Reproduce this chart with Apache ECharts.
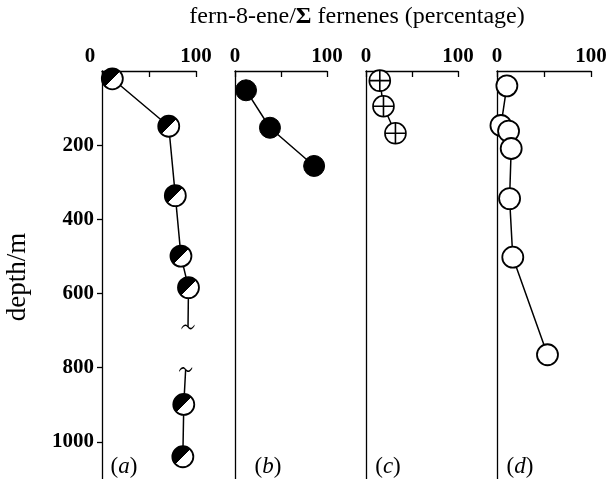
<!DOCTYPE html>
<html>
<head>
<meta charset="utf-8">
<script src="https://cdn.jsdelivr.net/npm/echarts@6/dist/echarts.min.js"></script>
<style>
  html, body { margin: 0; padding: 0; background: #fff; }
  #main { width: 611px; height: 479px; }
</style>
</head>
<body>
<div id="main"></div>
<script>
  // (a)
  const pctA = [11, 71, 78, 84, 92, 87, 86]
  const depthA = [21, 149, 336, 499, 584, 899, 1040]
  // ends of the broken stretch in (a)
  const breakPctA = [91.5, 89]
  const breakDepthA = [690, 805]
  // (b)
  const pctB = [12, 38, 86]
  const depthB = [52, 153, 256]
  // (c)
  const pctC = [15, 19, 32]
  const depthC = [26, 95, 168]
  // (d)
  const pctD = [10.5, 4.2, 12.3, 15.1, 13.4, 16.8, 53.7]
  const depthD = [40, 147, 162, 209, 344, 502, 765]

  const pctTicks = [0, 100]
  const depthTicks = [200, 400, 600, 800, 1000]
  const panelLabels = ['a', 'b', 'c', 'd']

  const serif = 'Liberation Serif'
  const zip = (xs, ys) => xs.map((x, i) => [x, ys[i]])

  // grid placement of the four panels
  const grids = [
    { left: 102, width: 94 },
    { left: 235, width: 92 },
    { left: 366, width: 92 },
    { left: 497, width: 94 }
  ].map(g => ({ left: g.left, width: g.width, top: 71, height: 412.5 }))

  const axisLineStyle = { color: '#000', width: 1.3 }

  const xAxes = grids.map((g, i) => ({
    gridIndex: i,
    type: 'value',
    position: 'top',
    min: 0,
    max: 100,
    interval: 50,
    axisLine: { show: true, onZero: false, lineStyle: axisLineStyle },
    axisTick: { show: true, inside: true, length: 6, lineStyle: axisLineStyle },
    axisLabel: {
      margin: 4,
      color: '#000',
      fontFamily: serif,
      fontWeight: 'bold',
      fontSize: 21,
      formatter: v => {
        if (pctTicks.indexOf(v) < 0) return ''
        if (i === 0 && v === 0) return '{s|0}'
        return String(v)
      },
      rich: {
        s: { padding: [0, 24, 0, 0], fontFamily: serif, fontWeight: 'bold', fontSize: 21, color: '#000' }
      }
    },
    splitLine: { show: false }
  }))

  const yAxes = grids.map((g, i) => ({
    gridIndex: i,
    type: 'value',
    inverse: true,
    min: 0,
    max: 1100,
    interval: 200,
    axisLine: { show: true, onZero: false, lineStyle: axisLineStyle },
    axisTick: { show: i === 0, length: 5, lineStyle: axisLineStyle },
    axisLabel: {
      show: i === 0,
      showMinLabel: false,
      showMaxLabel: false,
      margin: 8,
      color: '#000',
      fontFamily: serif,
      fontWeight: 'bold',
      fontSize: 21,
      formatter: v => depthTicks.indexOf(v) < 0 ? '' : String(v)
    },
    splitLine: { show: false }
  }))

  const lineOf = (i, data) => ({
    type: 'line',
    xAxisIndex: i,
    yAxisIndex: i,
    data: data,
    symbol: 'none',
    connectNulls: false,
    lineStyle: { color: '#000', width: 1.5 },
    z: 2
  })

  const dotsOf = (i, data, symbol, itemStyle) => ({
    type: 'scatter',
    xAxisIndex: i,
    yAxisIndex: i,
    data: data,
    symbol: symbol,
    symbolSize: 21,
    itemStyle: Object.assign({ opacity: 1 }, itemStyle),
    emphasis: { disabled: true },
    z: 3
  })

  // (a) line with a gap between the two break marks
  const ptsA = zip(pctA, depthA)
  const brkA = zip(breakPctA, breakDepthA)
  const lineA = ptsA.slice(0, 5).concat([brkA[0], '-', brkA[1]], ptsA.slice(5))

  const halfFill = {
    type: 'linear', x: 0, y: 0, x2: 1, y2: 1,
    colorStops: [
      { offset: 0, color: '#000' }, { offset: 0.5, color: '#000' },
      { offset: 0.5, color: '#fff' }, { offset: 1, color: '#fff' }
    ]
  }
  const crossCircle = 'path://M50 0A50 50 0 1 1 50 100A50 50 0 1 1 50 0ZM50 0L50 100M0 50L100 50'
  const breakMark = 'path://M0 5C4 0 7 0 10 3C13 6 16 6 20 1L20 3C16 8 13 8 10 5C7 2 4 2 0 7Z'

  const series = [
    lineOf(0, lineA),
    dotsOf(0, ptsA, 'circle', { color: halfFill, borderColor: '#000', borderWidth: 1.8 }),
    {
      type: 'scatter', xAxisIndex: 0, yAxisIndex: 0, data: brkA,
      symbol: breakMark, symbolSize: [13, 5], itemStyle: { color: '#000', opacity: 1 }, z: 3
    },
    lineOf(1, zip(pctB, depthB)),
    dotsOf(1, zip(pctB, depthB), 'circle', { color: '#000', borderColor: '#000', borderWidth: 1 }),
    lineOf(2, zip(pctC, depthC)),
    dotsOf(2, zip(pctC, depthC), crossCircle, { color: '#fff', borderColor: '#000', borderWidth: 1.6 }),
    lineOf(3, zip(pctD, depthD)),
    dotsOf(3, zip(pctD, depthD), 'circle', { color: '#fff', borderColor: '#000', borderWidth: 1.8 })
  ]

  const labelX = [124, 268, 388, 520]
  const graphic = [
    {
      type: 'text', x: 357, y: 17,
      style: {
        text: 'fern-8-ene/{g|Σ} fernenes (percentage)',
        align: 'center', verticalAlign: 'middle',
        fill: '#000', font: '24px "Liberation Serif"',
        rich: { g: { font: 'bold 24px "Liberation Serif"', fill: '#000' } }
      }
    },
    {
      type: 'text', x: 18, y: 277, rotation: Math.PI / 2,
      style: {
        text: 'depth/m', align: 'center', verticalAlign: 'middle',
        fill: '#000', font: '27px "Liberation Serif"'
      }
    }
  ].concat(panelLabels.map((p, i) => ({
    type: 'text', x: labelX[i], y: 467,
    style: {
      text: '({i|' + p + '})', align: 'center', verticalAlign: 'middle',
      fill: '#000', font: '23px "Liberation Serif"',
      rich: { i: { font: 'italic 23px "Liberation Serif"', fill: '#000' } }
    }
  })))

  const chart = echarts.init(document.getElementById('main'))
  chart.setOption({
    animation: false,
    backgroundColor: '#fff',
    grid: grids,
    xAxis: xAxes,
    yAxis: yAxes,
    series: series,
    graphic: graphic
  })
</script>
</body>
</html>
